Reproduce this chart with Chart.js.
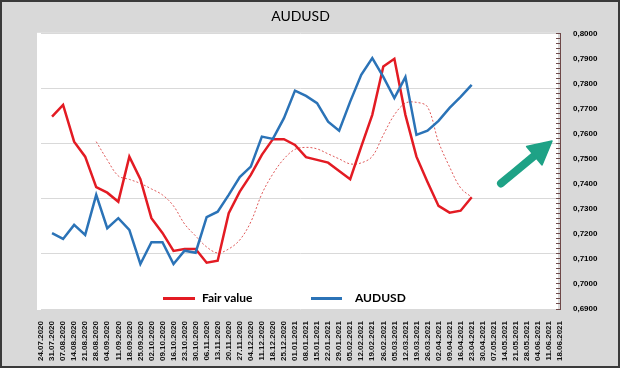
<!DOCTYPE html>
<html><head><meta charset="utf-8">
<script src="https://cdn.jsdelivr.net/npm/chart.js@4"></script>
<style>
html,body{margin:0;padding:0;background:#d9d9d9;}
#wrap{position:relative;width:620px;height:368px;overflow:hidden;}
canvas{display:block;}
.lgt{position:absolute;font:bold 12px Lato, sans-serif;color:#000;white-space:nowrap;line-height:14px;}
.lgs{position:absolute;height:3px;}
#arrow{position:absolute;left:0;top:0;pointer-events:none;}
</style></head><body>
<div id="wrap">
<canvas id="c" width="620" height="368"></canvas>
<svg id="arrow" width="620" height="368">
  <line x1="501" y1="183.4" x2="536" y2="154.3" stroke="#1ea286" stroke-width="8" stroke-linecap="round"/>
  <polygon points="552,141 542,164.9 526.6,146.5" fill="#1ea286" stroke="#1ea286" stroke-width="1.5" stroke-linejoin="round"/>
</svg>
<div id="legend"></div>
</div>
<script>
const dates = ["24.07.2020","31.07.2020","07.08.2020","14.08.2020","21.08.2020","28.08.2020","04.09.2020","11.09.2020","18.09.2020","25.09.2020","02.10.2020","09.10.2020","16.10.2020","23.10.2020","30.10.2020","06.11.2020","13.11.2020","20.11.2020","27.11.2020","04.12.2020","11.12.2020","18.12.2020","25.12.2020","01.01.2021","08.01.2021","15.01.2021","22.01.2021","29.01.2021","05.02.2021","12.02.2021","19.02.2021","26.02.2021","05.03.2021","12.03.2021","19.03.2021","26.03.2021","02.04.2021","09.04.2021","16.04.2021","23.04.2021","30.04.2021","07.05.2021","14.05.2021","21.05.2021","28.05.2021","04.06.2021","11.06.2021","18.06.2021"];

const fairValue = [null,0.7669,0.7716,0.7569,0.7509,0.7387,0.7365,0.7329,0.7509,0.7419,0.7263,0.7204,0.7132,0.7140,0.7140,0.7085,0.7093,0.7283,0.7369,0.7436,0.7516,0.7579,0.7579,0.7556,0.7507,0.7496,0.7485,0.7452,0.7419,0.7549,0.7676,0.7869,0.7900,0.7676,0.7509,0.7408,0.7312,0.7285,0.7293,0.7347,null,null,null,null,null,null,null,null];

const audusd = [null,0.7203,0.7180,0.7236,0.7196,0.7356,0.7223,0.7263,0.7216,0.7080,0.7167,0.7167,0.7080,0.7133,0.7125,0.7267,0.7289,0.7356,0.7427,0.7469,0.7589,0.7580,0.7663,0.7773,0.7752,0.7723,0.7649,0.7613,0.7729,0.7836,0.7903,0.7828,0.7743,0.7827,0.7596,0.7613,0.7652,0.7704,0.7748,0.7796,null,null,null,null,null,null,null,null];

const fairValueMA = [null,null,null,null,null,0.7569,0.7496,0.7432,0.7418,0.7402,0.7380,0.7356,0.7312,0.7240,0.7192,0.7148,0.7124,0.7140,0.7176,0.7248,0.7360,0.7440,0.7500,0.7538,0.7546,0.7540,0.7520,0.7500,0.7480,0.7484,0.7510,0.7596,0.7676,0.7723,0.7726,0.7708,0.7568,0.7468,0.7384,0.7347,null,null,null,null,null,null,null,null];

const yMin = 0.69, yMax = 0.80, yMinorStep = 0.002;
const plotGridSteps = [0, 2.2, 4.4, 6.6, 8.8, 11];

const RED = '#e31b23', BLUE = '#2b73b7';

const bgPlugin = {
  id: 'bg',
  beforeDraw(chart) {
    const {ctx, width, height, chartArea: a} = chart;
    ctx.save();
    ctx.fillStyle = '#d9d9d9';
    ctx.fillRect(0, 0, width, height);
    ctx.fillStyle = '#ffffff';
    ctx.fillRect(a.left - 4, a.top - 1, a.width + 2, a.height + 2);
    ctx.restore();
  },
  afterDraw(chart) {
    const {ctx, width, height} = chart;
    ctx.save();
    ctx.strokeStyle = '#3a3a3a';
    ctx.lineWidth = 2;
    ctx.strokeRect(1, 1, width - 2, height - 2);
    ctx.restore();
  }
};

const chart = new Chart(document.getElementById('c'), {
  type: 'line',
  data: {
    labels: dates,
    datasets: [
      {label: 'AUDUSD', data: audusd, borderColor: BLUE, borderWidth: 2.5, pointRadius: 0, tension: 0, yAxisID: 'y'},
      {label: 'Fair value', data: fairValue, borderColor: RED, borderWidth: 2.5, pointRadius: 0, tension: 0, yAxisID: 'y'},
      {label: 'Fair value MA', data: fairValueMA, borderColor: '#e05a5a', borderWidth: 1, borderDash: [2, 2], pointRadius: 0, tension: 0.35, yAxisID: 'y'}
    ]
  },
  options: {
    responsive: false,
    animation: false,
    devicePixelRatio: 1,
    layout: {padding: {left: 41, right: 0, top: 0, bottom: 0}},
    plugins: {
      legend: {display: false},
      tooltip: {enabled: false},
      title: {
        display: true, text: 'AUDUSD', fullSize: false, color: '#000',
        font: {family: 'Lato', size: 14, weight: 'normal'},
        padding: {top: 8, bottom: 9}
      }
    },
    scales: {
      x: {
        type: 'category', offset: false,
        grid: {display: false}, border: {display: false},
        ticks: {autoSkip: false, maxRotation: 90, minRotation: 90, padding: 4, color: '#111',
          font: {family: 'Liberation Sans', weight: 'bold', size: 8}},
        afterFit: s => { s.height = 59; }
      },
      g: {
        position: 'left', min: 0, max: 11,
        ticks: {display: false},
        grid: {color: '#d9d9d9', drawTicks: false, lineWidth: 1},
        border: {display: false},
        afterBuildTicks: s => { s.ticks = plotGridSteps.map(v => ({value: v})); },
        afterFit: s => { s.width = 0; }
      },
      y: {
        position: 'right', min: yMin, max: yMax,
        ticks: {
          stepSize: yMinorStep, autoSkip: false, padding: 17, color: '#000',
          font: {family: 'Liberation Sans', weight: 'bold', size: 8},
          callback: v => {
            const r = Math.round(v * 100);
            return Math.abs(v * 100 - r) < 1e-6 ? (r / 100).toFixed(4).replace('.', ',') : '';
          }
        },
        grid: {drawOnChartArea: false, tickLength: -4, color: '#6e4848'},
        border: {color: '#6e4848', width: 1},
        afterFit: s => { s.width = 60; }
      }
    }
  },
  plugins: [bgPlugin]
});

// HTML legend built from datasets (Fair value first, then AUDUSD)
const legendOrder = ['Fair value', 'AUDUSD'];
const legendPos = [{sw: 163, tx: 202, w: 32}, {sw: 311, tx: 355, w: 31}];
const lg = document.getElementById('legend');
legendOrder.forEach((name, i) => {
  const ds = chart.data.datasets.find(d => d.label === name);
  const p = legendPos[i];
  const s = document.createElement('div');
  s.className = 'lgs';
  s.style.left = p.sw + 'px'; s.style.top = '297px'; s.style.width = p.w + 'px';
  s.style.background = ds.borderColor;
  const t = document.createElement('div');
  t.className = 'lgt';
  t.style.left = p.tx + 'px'; t.style.top = '291px';
  t.textContent = ds.label;
  lg.appendChild(s); lg.appendChild(t);
});
</script>
</body></html>
